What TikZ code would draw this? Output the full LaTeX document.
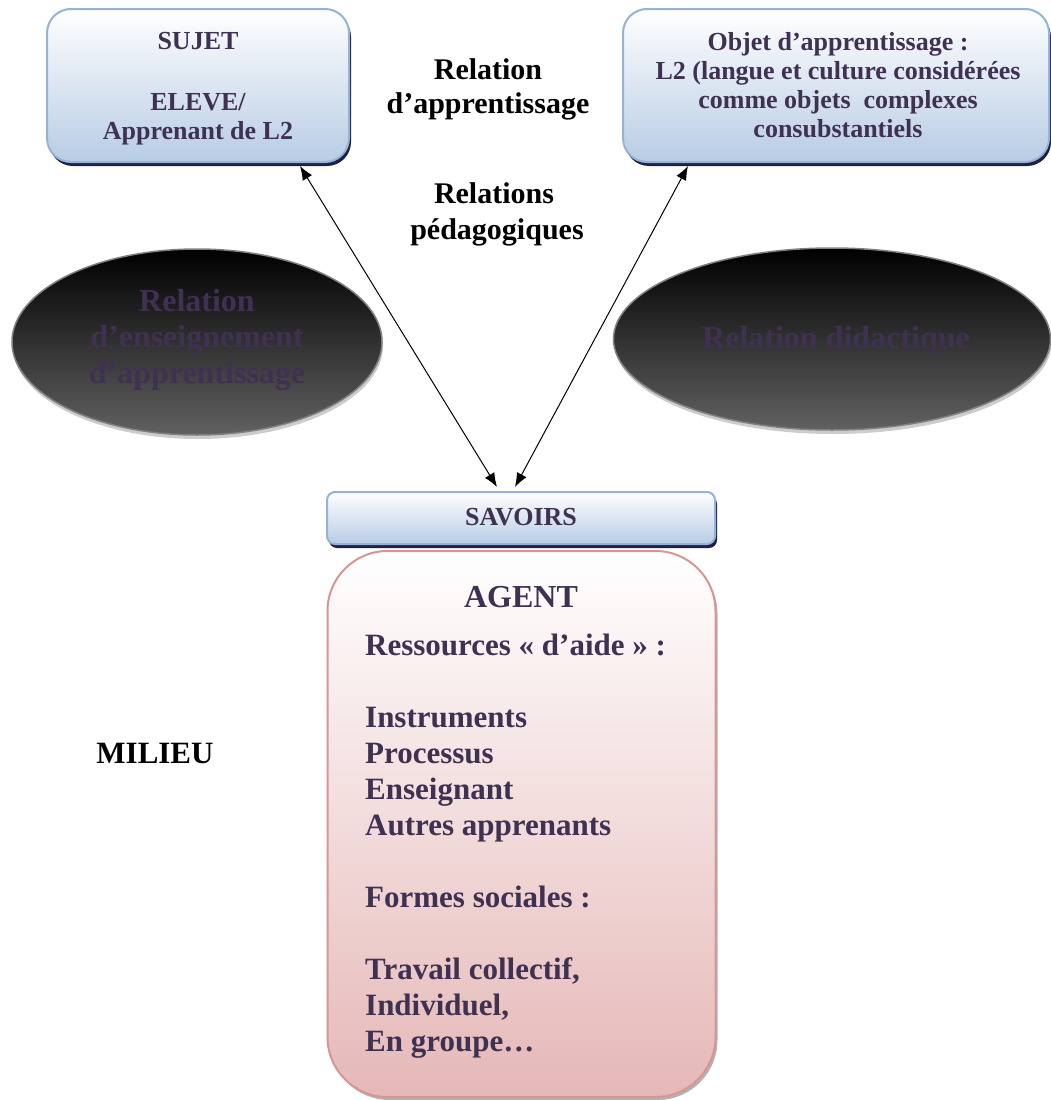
\documentclass[tikz,border=0pt]{standalone}
\usepackage{fontspec}
\setmainfont{Liberation Serif}
\usetikzlibrary{shapes.geometric,shadows,arrows.meta}
\definecolor{txtp}{HTML}{3F3151}
\definecolor{bluebd}{HTML}{95B3D7}
\definecolor{bluebot}{HTML}{B8CCE4}
\definecolor{redbd}{HTML}{D99594}
\definecolor{redbot}{HTML}{E5B8B7}
\begin{document}
\begin{tikzpicture}[x=1pt,y=-1pt,
  bluebox/.style={draw=bluebd, line width=2pt, rounded corners=24pt, top color=white, bottom color=bluebot,
    general shadow={fill=gray!60!blue!40!black, shadow xshift=2pt, shadow yshift=-4pt}},
  darkell/.style={ellipse, draw=gray, line width=1.5pt, top color=black, bottom color=black!62,
    general shadow={fill=gray!40, shadow xshift=1pt, shadow yshift=-4pt}},
  boxtxt/.style={anchor=base, text=txtp, font=\bfseries\fontsize{26}{29}\selectfont, inner sep=0pt},
  lbl/.style={anchor=base, text=black, font=\bfseries\fontsize{30}{35}\selectfont, inner sep=0pt},
  elltxt/.style={anchor=base, text=txtp, font=\bfseries\fontsize{32}{36}\selectfont, inner sep=0pt},
  agtxt/.style={anchor=base west, text=txtp, font=\bfseries\fontsize{31}{36}\selectfont, inner sep=0pt},
  arr/.style={<->, >={Latex[length=14pt,width=11pt]}, line width=1pt}
]
\useasboundingbox (0,0) rectangle (1051,1100);
\fill[white] (0,0) rectangle (1051,1100);

% top boxes
\node[bluebox, minimum width=302pt, minimum height=153pt] (sujet) at (198,85.5) {};
\node[boxtxt] (s1) at (198,49) {SUJET};
\node[boxtxt] (s2) at (198,110) {ELEVE/};
\node[boxtxt] (s3) at (198,139) {Apprenant de L2};

\node[bluebox, minimum width=426pt, minimum height=153pt] (objet) at (836,85.5) {};
\node[boxtxt] (o1) at (838,50) {Objet d’apprentissage :};
\node[boxtxt] (o2) at (838,79) {L2 (langue et culture considérées};
\node[boxtxt] (o3) at (838,108) {comme objets\ \ complexes};
\node[boxtxt] (o4) at (838,137) {consubstantiels};

% labels
\node[lbl] (r1) at (488,79) {Relation};
\node[lbl] (r2) at (488,113) {d’apprentissage};
\node[lbl] (r3) at (494,203) {Relations};
\node[lbl] (r4) at (497,239) {pédagogiques};

% ellipses
\node[darkell, minimum width=370pt, minimum height=186pt] (ell1) at (197,342) {};
\node[elltxt] (e1) at (197,311) {Relation};
\node[elltxt] (e2) at (197,347) {d’enseignement};
\node[elltxt] (e3) at (197,383) {d’apprentissage};
\node[darkell, minimum width=437pt, minimum height=182pt] (ell2) at (832,339) {};
\node[elltxt] (e4) at (836,348) {Relation didactique};

% savoirs
\node[bluebox, rounded corners=8pt, minimum width=388pt, minimum height=52pt] (sav) at (521,518) {};
\node[boxtxt] (savt) at (521,525) {SAVOIRS};

% agent
\node[draw=redbd, line width=2pt, rounded corners=60pt, top color=white, bottom color=redbot,
  minimum width=388pt, minimum height=546pt,
  general shadow={fill=gray!60, shadow xshift=2pt, shadow yshift=-3pt}] (agent) at (521.5,824) {};
\node[anchor=base, text=txtp, font=\bfseries\fontsize{32}{36}\selectfont, inner sep=0pt] (agentt) at (521,607) {AGENT};
\node[agtxt] (g1) at (365,655) {Ressources « d’aide » :};
\node[agtxt] (g2) at (365,727) {Instruments};
\node[agtxt] (g3) at (365,763) {Processus};
\node[agtxt] (g4) at (365,799) {Enseignant};
\node[agtxt] (g5) at (365,835) {Autres apprenants};
\node[agtxt] (g6) at (365,907) {Formes sociales :};
\node[agtxt] (g7) at (365,979) {Travail collectif,};
\node[agtxt] (g8) at (365,1015) {Individuel,};
\node[agtxt] (g9) at (365,1051) {En groupe…};

% milieu
\node[lbl, font=\bfseries\fontsize{31}{35}\selectfont] (milieu) at (155,763) {MILIEU};

% arrows
\coordinate (a1) at (300,166);
\coordinate (b1) at (497,487);
\coordinate (a2) at (688,166);
\coordinate (b2) at (515,487);
\draw[arr] (a1) -- (b1);
\draw[arr] (a2) -- (b2);
\end{tikzpicture}
\end{document}
